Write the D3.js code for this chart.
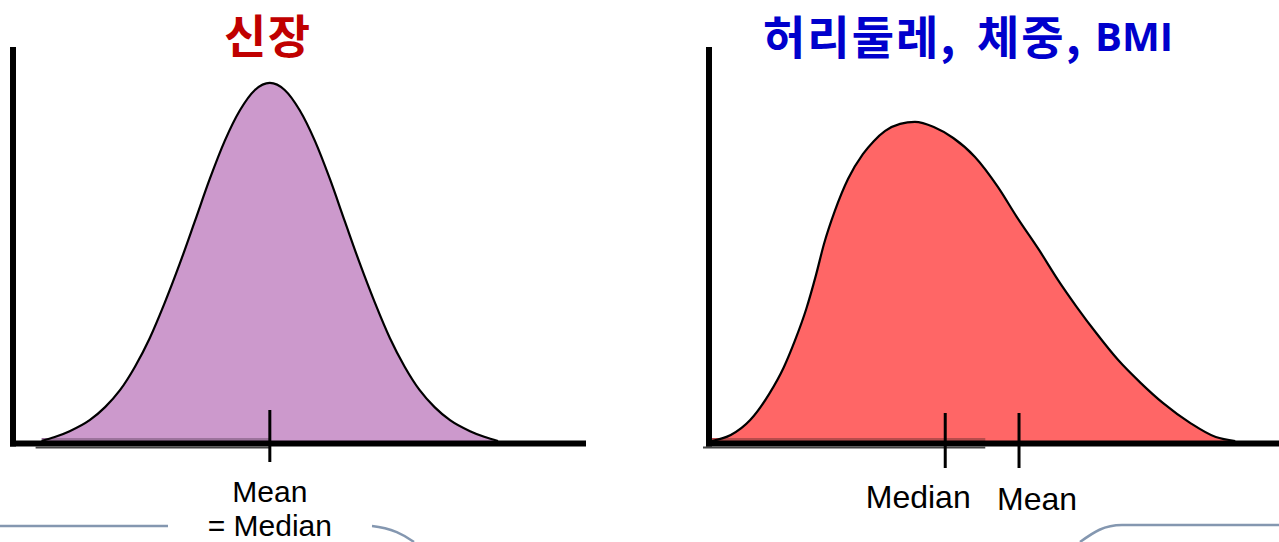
<!DOCTYPE html>
<html><head><meta charset="utf-8">
<script src="https://cdn.jsdelivr.net/npm/d3@7/dist/d3.min.js"></script>
<style>
html,body{margin:0;padding:0;background:#fff;overflow:hidden}
svg{display:block}
</style></head>
<body>
<svg id="chart" width="1279" height="542"></svg>
<script>
// ---- data (x and density in arbitrary units 0..100) ----
const leftTitle = "신장";
const rightTitleParts = ["허리둘레,", "체중,", "BMI"];

const leftX = [5.0, 7.3, 9.9, 13.4, 16.1, 18.7, 21.3, 23.9, 26.5, 29.2, 31.8, 34.4, 37.0, 39.7, 42.3, 44.9, 47.5, 50.1, 52.8, 55.4, 58.0, 60.6, 63.3, 65.9, 68.5, 71.1, 73.7, 76.4, 79.9, 82.5, 84.8];
const leftY = [0, 1.0, 2.5, 5.3, 8.6, 12.9, 18.8, 26.1, 35.0, 45.2, 55.8, 66.5, 76.1, 84.0, 89.1, 90.9, 89.1, 84.0, 76.1, 66.5, 55.8, 45.2, 35.0, 26.1, 18.8, 12.9, 8.6, 5.3, 2.5, 1.0, 0];

const rightX = [0.5, 3.8, 7.2, 10.5, 13.1, 15.0, 17.0, 18.7, 20.1, 22.0, 24.3, 26.9, 28.8, 30.8, 33.4, 36.0, 39.3, 42.7, 46.5, 50.5, 53.8, 57.7, 61.0, 64.3, 67.7, 71.5, 75.5, 79.4, 84.1, 88.6, 92.0];
const rightY = [0, 1.5, 5.3, 11.9, 18.8, 25.4, 33.5, 42.1, 50.0, 58.4, 66.5, 72.8, 76.1, 78.7, 80.5, 81.0, 79.7, 76.9, 72.1, 64.5, 56.9, 48.5, 40.9, 34.0, 27.4, 20.6, 14.7, 9.6, 4.6, 1.0, 0];

const leftTickValues = [44.9];
const leftTickLabels = [["Mean", "= Median"]];
const rightTickValues = [41.3, 54.2];
const rightTickLabels = [["Median"], ["Mean"]];

// slight shading artefact along the base (from curve start to a point)
const leftShadow = [5.0, 44.9];
const rightShadow = [0.0, 48.3];

// ---- drawing ----
const svg = d3.select("#chart");
svg.append("rect").attr("width", 1279).attr("height", 542).attr("fill", "#fff");

const yScale = d3.scaleLinear().domain([0, 100]).range([441, 47]);

function panel(cfg) {
  const g = svg.append("g");
  const x = d3.scaleLinear().domain([0, 100]).range(cfg.range);
  const pts = cfg.xs.map((v, i) => [v, cfg.ys[i]]);
  const area = d3.area().x(d => x(d[0])).y0(yScale(0)).y1(d => yScale(d[1])).curve(d3.curveMonotoneX);
  const line = d3.line().x(d => x(d[0])).y(d => yScale(d[1])).curve(d3.curveMonotoneX);
  g.append("path").attr("d", area(pts)).attr("fill", cfg.fill);
  g.append("rect").attr("x", x(cfg.shadow[0])).attr("y", yScale(0) - 3)
    .attr("width", x(cfg.shadow[1]) - x(cfg.shadow[0])).attr("height", 3).attr("fill", cfg.dark);
  g.append("path").attr("d", line(pts)).attr("fill", "none").attr("stroke", "#000").attr("stroke-width", 2.2);
  // x axis
  const xa = d3.axisBottom(x).tickValues(cfg.ticks).tickSize(0).tickFormat("");
  const ax = g.append("g").attr("transform", `translate(0,${yScale(0) + 2.5})`).call(xa);
  ax.select(".domain").attr("stroke", "#000").attr("stroke-width", 6)
    .attr("d", `M${cfg.range[0] - 3},0H${cfg.axisEnd}`);
  g.append("rect").attr("x", x(cfg.shadow[0]) - 6).attr("y", yScale(0) + 5.5)
    .attr("width", x(cfg.shadow[1]) - x(cfg.shadow[0]) + 6).attr("height", 2).attr("fill", "#444");
  // y axis
  const ya = d3.axisLeft(yScale).tickValues([]).tickSize(0);
  const ay = g.append("g").attr("transform", `translate(${cfg.range[0]},0)`).call(ya);
  ay.select(".domain").attr("stroke", "#000").attr("stroke-width", 6)
    .attr("d", `M0,${yScale(100)}V${yScale(0) + 5.5}`);
  // ticks + labels
  cfg.ticks.forEach((t, i) => {
    g.append("line").attr("x1", x(t)).attr("x2", x(t))
      .attr("y1", cfg.tickTop).attr("y2", cfg.tickBottom)
      .attr("stroke", "#000").attr("stroke-width", 3);
    cfg.labels[i].forEach((s, j) => {
      g.append("text").attr("x", x(t) + cfg.labelDx[i]).attr("y", cfg.labelY[i] + j * cfg.lineGap)
        .attr("text-anchor", "middle").attr("font-family", "'Liberation Sans', Arial, sans-serif")
        .attr("font-size", cfg.labelSize).attr("fill", "#000").text(s);
    });
  });
}

// decorative slide frame lines at the bottom
svg.append("path").attr("d", "M0,526H168").attr("fill", "none").attr("stroke", "#8497b0").attr("stroke-width", 2.5);
svg.append("path").attr("d", "M372,526C392,528 404,535 414,542").attr("fill", "none").attr("stroke", "#8497b0").attr("stroke-width", 2.5);
svg.append("path").attr("d", "M1080,542C1094,532 1104,525 1122,525H1279").attr("fill", "none").attr("stroke", "#8497b0").attr("stroke-width", 2.5);

panel({
  range: [13, 585], axisEnd: 586, xs: leftX, ys: leftY, fill: "#cc99cc", dark: "#9c739c",
  shadow: leftShadow, ticks: leftTickValues, labels: leftTickLabels,
  tickTop: 410, tickBottom: 462, labelDx: [0], labelY: [502], labelSize: 30, lineGap: 33.6
});
panel({
  range: [709, 1281], axisEnd: 1285, xs: rightX, ys: rightY, fill: "#ff6666", dark: "#b84c4c",
  shadow: rightShadow, ticks: rightTickValues, labels: rightTickLabels,
  tickTop: 413, tickBottom: 468, labelDx: [-27, 18], labelY: [508, 510], labelSize: 32, lineGap: 36
});

// titles
svg.append("text").attr("x", 267).attr("y", 53).attr("text-anchor", "middle")
  .attr("font-family", "'Noto Sans CJK KR', sans-serif").attr("font-weight", "bold")
  .attr("font-size", 46).attr("fill", "#c00000")
  .attr("textLength", 86).attr("lengthAdjust", "spacing").text(leftTitle);
const rt = svg.append("text").attr("y", 54)
  .attr("font-family", "'Noto Sans CJK KR', sans-serif").attr("font-weight", "bold")
  .attr("fill", "#0000cc");
rt.append("tspan").attr("x", 763).attr("font-size", 46).attr("letter-spacing", 2).text(rightTitleParts[0]);
rt.append("tspan").attr("x", 977).attr("font-size", 46).attr("letter-spacing", 2).text(rightTitleParts[1]);
rt.append("tspan").attr("x", 1095).attr("y", 51).attr("font-size", 40)
  .attr("font-family", "'Open Sans', 'Noto Sans', sans-serif")
  .attr("textLength", 78).attr("lengthAdjust", "spacingAndGlyphs").text(rightTitleParts[2]);
</script>
</body></html>
